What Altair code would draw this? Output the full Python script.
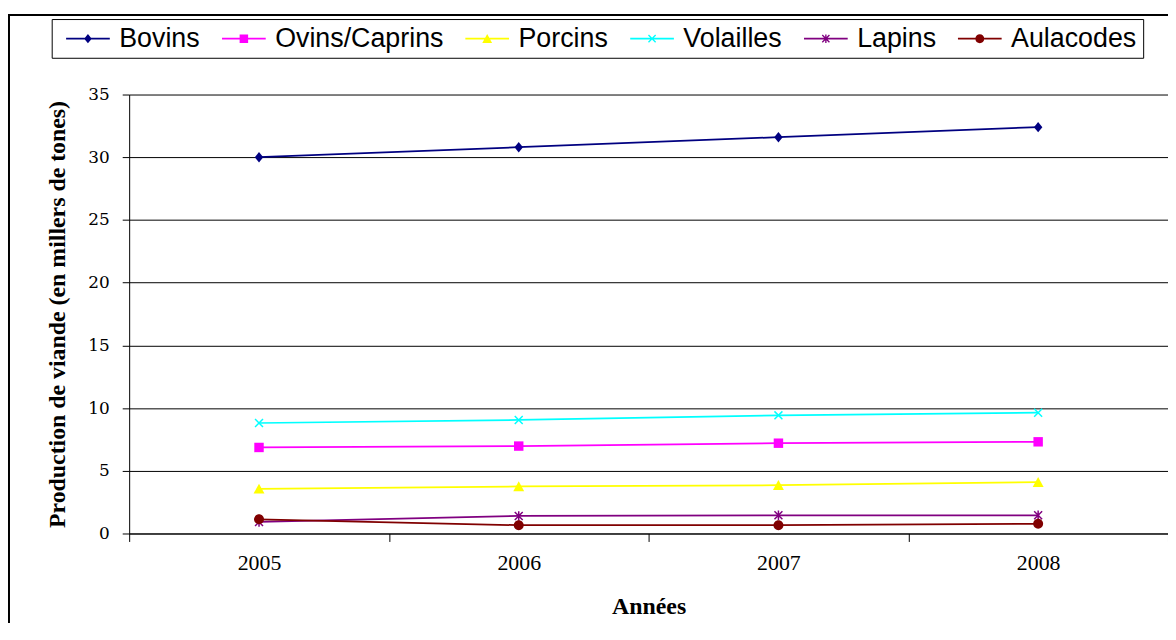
import math
import altair as alt
import pandas as pd

years = ["2005", "2006", "2007", "2008"]
series = ["Bovins", "Ovins/Caprins", "Porcins", "Volailles", "Lapins", "Aulacodes"]
bovins = [30.0, 30.8, 31.6, 32.4]
ovins = [6.86, 6.97, 7.20, 7.31]
porcins = [3.56, 3.75, 3.85, 4.09]
volailles = [8.81, 9.05, 9.42, 9.63]
lapins = [0.92, 1.40, 1.45, 1.45]
aulacodes = [1.13, 0.66, 0.66, 0.77]
colors = ["#000080", "#FF00FF", "#FFFF00", "#00FFFF", "#800080", "#800000"]

values = [bovins, ovins, porcins, volailles, lapins, aulacodes]
rows = []
for name, vals in zip(series, values):
    for yr, v in zip(years, vals):
        rows.append({"Année": yr, "Série": name, "Valeur": v})
df = pd.DataFrame(rows)


# ---- symbol path helpers (all sub-paths drawn clockwise so they merge) ----
def poly(pts, k=1.0, dx=0.0):
    area = sum(pts[i][0] * pts[(i + 1) % len(pts)][1] - pts[(i + 1) % len(pts)][0] * pts[i][1]
               for i in range(len(pts)))
    if area < 0:
        pts = pts[::-1]
    return "M" + "L".join(f"{x * k + dx:.3f},{y * k:.3f}" for x, y in pts) + "Z"


def bar(x1, y1, x2, y2, h, dx=0.0):
    ddx, ddy = x2 - x1, y2 - y1
    L = math.hypot(ddx, ddy)
    nx, ny = -ddy / L * h, ddx / L * h
    return poly([(x1 + nx, y1 + ny), (x2 + nx, y2 + ny), (x2 - nx, y2 - ny), (x1 - nx, y1 - ny)], 1.0, dx)


def circ(r, dx=0.0):
    return (f"M{-r + dx:.3f},0A{r:.3f},{r:.3f} 0 1,1 {r + dx:.3f},0"
            f"A{r:.3f},{r:.3f} 0 1,1 {-r + dx:.3f},0Z")


def marker(kind, k, dx=0.0):
    if kind == "diamond":
        return poly([(0, -1.05), (0.85, 0), (0, 1.05), (-0.85, 0)], k, dx)
    if kind == "square":
        return poly([(-0.95, -0.95), (0.95, -0.95), (0.95, 0.95), (-0.95, 0.95)], k, dx)
    if kind == "triangle":
        return poly([(0, -1.05), (1.1, 0.95), (-1.1, 0.95)], k, dx)
    a, h = 0.8 * k, 0.15 * k
    xx = bar(-a, -a, a, a, h, dx) + bar(-a, a, a, -a, h, dx)
    if kind == "x":
        return xx
    if kind == "star":
        return xx + bar(0, -0.95 * k, 0, 0.95 * k, h, dx)
    return circ(1.0 * k, dx)


kinds = ["diamond", "square", "triangle", "x", "star", "circle"]
data_shapes = [marker(kd, 1.0) for kd in kinds]            # size 100 -> scale 5
# legend symbol (size 400 -> scale 10): a 44px line with its marker in the middle,
# starting 5px inside the legend entry's reserved square
LX0, LX1 = -0.5, 3.9
legend_line = bar(LX0, 0, LX1, 0, 0.08)
legend_shapes = [legend_line + marker(kd, 0.45, (LX0 + LX1) / 2) for kd in kinds]

W, H = 1046, 442

x_enc = alt.X(
    "Année:N",
    sort=years,
    scale=alt.Scale(paddingInner=0, paddingOuter=0),
    axis=alt.Axis(
        tickBand="extent", labelAngle=0, grid=False,
        domainColor="black", tickColor="black", tickSize=8,
        labelFont="Liberation Serif", labelFontSize=22, labelColor="black", labelPadding=11,
        title="Années", titleFont="Liberation Serif", titleFontWeight="bold",
        titleFontSize=24, titleColor="black", titleY=74, titleBaseline="middle",
    ),
)
y_enc = alt.Y(
    "Valeur:Q",
    scale=alt.Scale(domain=[0, 35], nice=False),
    axis=alt.Axis(
        values=[0, 5, 10, 15, 20, 25, 30, 35], grid=True, gridColor="black", gridWidth=1,
        domainColor="black", tickColor="black", tickSize=7,
        labelFont="DejaVu Serif", labelFontSize=17, labelColor="black", labelPadding=13,
        title="Production de viande (en millers de tones)",
        titleFont="Liberation Serif", titleFontWeight="bold", titleFontSize=24,
        titleColor="black", titleX=-72, titleY=H / 2, titleBaseline="middle",
        titleAlign="center", titleAngle=270,
    ),
)

one = pd.DataFrame({"a": [0]})
frame_top = alt.Chart(one).mark_rule(stroke="black", strokeWidth=2).encode(
    x=alt.value(-121), x2=alt.value(2000), y=alt.value(-80)
)
frame_left = alt.Chart(one).mark_rule(stroke="black", strokeWidth=2).encode(
    x=alt.value(-121), y=alt.value(-81), y2=alt.value(900)
)

lines = alt.Chart(df).mark_line(strokeWidth=1.75).encode(
    x=x_enc, y=y_enc,
    color=alt.Color("Série:N", scale=alt.Scale(domain=series, range=colors), legend=None),
)

points = alt.Chart(df).mark_point(filled=True, size=100, opacity=1, strokeWidth=0).encode(
    x=x_enc, y=y_enc,
    color=alt.Color("Série:N", scale=alt.Scale(domain=series, range=colors), legend=None),
    shape=alt.Shape("Série:N", scale=alt.Scale(domain=series, range=data_shapes), legend=None),
)

leg = dict(
    orient="none", legendX=-78, legendY=-76, direction="horizontal", title=None,
    labelFont="Liberation Sans", labelFontSize=27, labelColor="black", labelLimit=400,
    symbolSize=400, symbolStrokeWidth=0, symbolOpacity=1,
    labelOffset=35, columnPadding=13, padding=6,
    strokeColor="black", fillColor="white",
)
legend_layer = alt.Chart(df).mark_point(filled=True, size=400, opacity=0, strokeWidth=0).encode(
    x=x_enc, y=y_enc,
    color=alt.Color("Série:N", scale=alt.Scale(domain=series, range=colors), legend=alt.Legend(**leg)),
    shape=alt.Shape("Série:N", scale=alt.Scale(domain=series, range=legend_shapes), legend=alt.Legend(**leg)),
)

chart = (
    alt.layer(frame_top, frame_left, lines, points, legend_layer)
    .resolve_scale(color="independent", shape="independent")
    .properties(
        width=W, height=H,
        autosize=alt.AutoSizeParams(type="none"),
        padding={"left": 122, "top": 85, "right": 0, "bottom": 88},
        background="white",
    )
    .configure_view(stroke=None)
)

chart.save("out.html", embed_options={"renderer": "svg", "actions": False})
